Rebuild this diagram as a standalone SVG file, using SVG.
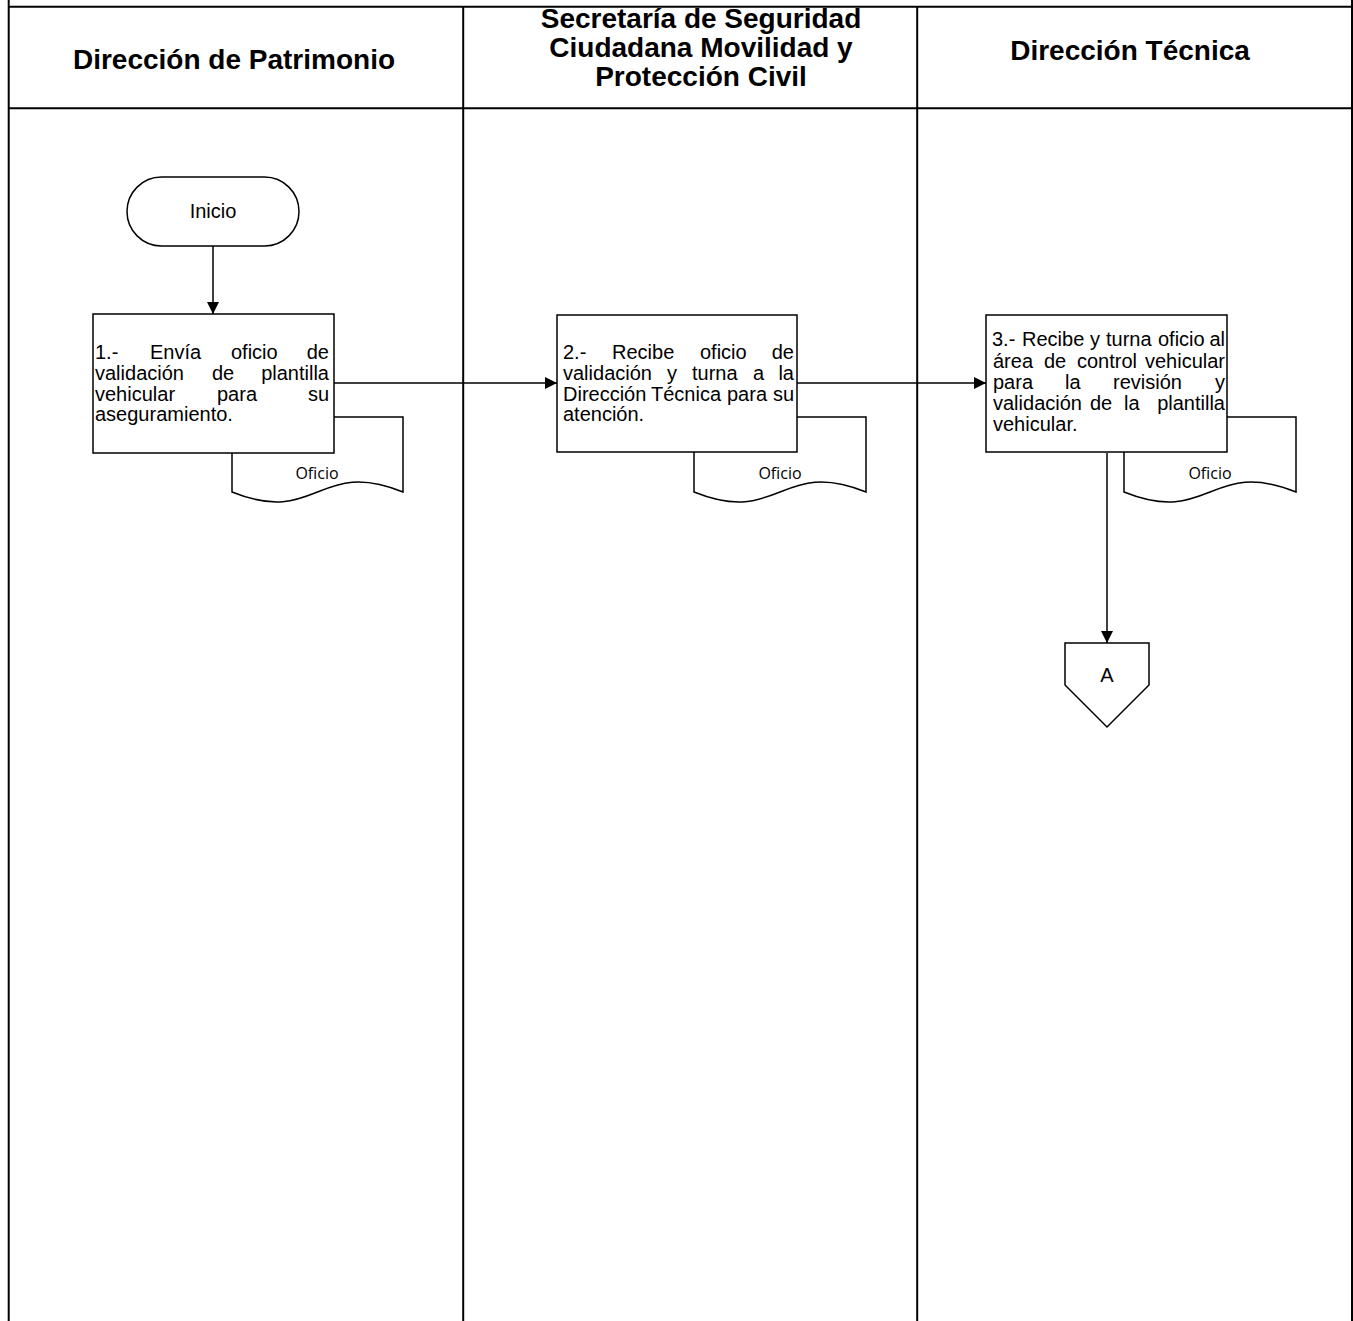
<svg xmlns="http://www.w3.org/2000/svg" width="1353" height="1321" viewBox="0 0 1353 1321">
<defs>
<style>
.ln{stroke:#000;stroke-width:2;fill:none}
.hd{font-family:"Liberation Sans",Arial,sans-serif;font-weight:bold;font-size:28px;fill:#000;text-anchor:middle}
.tx{font-family:"Liberation Sans",Arial,sans-serif;font-size:20px;fill:#000}
.doc{font-family:"Open Sans","Noto Sans",sans-serif;font-size:16px;fill:#000;text-anchor:middle}
.box{fill:#fff;stroke:#000;stroke-width:1.5}
.cn{stroke:#000;stroke-width:1.5;fill:none}
</style>
<marker id="ah" viewBox="0 0 12 12" refX="12" refY="6" markerWidth="12" markerHeight="12" markerUnits="userSpaceOnUse" orient="auto">
<path d="M0,0 L12,6 L0,12 Z" fill="#000"/>
</marker>
</defs>
<rect width="1353" height="1321" fill="#fff"/>
<g id="lanes">
<line class="ln" x1="8.7" y1="0" x2="8.7" y2="1321"/>
<line class="ln" x1="1352" y1="0" x2="1352" y2="1321"/>
<line class="ln" x1="8" y1="6.7" x2="1353" y2="6.7"/>
<line class="ln" x1="8" y1="108.3" x2="1353" y2="108.3"/>
<line class="ln" x1="463.2" y1="6" x2="463.2" y2="1321"/>
<line class="ln" x1="917.2" y1="6" x2="917.2" y2="1321"/>
<text class="hd" x="234" y="69">Dirección de Patrimonio</text>
<text class="hd" x="701" y="28">Secretaría de Seguridad</text>
<text class="hd" x="701" y="57">Ciudadana Movilidad y</text>
<text class="hd" x="701" y="86">Protección Civil</text>
<text class="hd" x="1130" y="60">Dirección Técnica</text>
</g>
<g id="connectors">
<line class="cn" x1="213" y1="246" x2="213" y2="314" marker-end="url(#ah)"/>
<line class="cn" x1="334" y1="383" x2="557" y2="383" marker-end="url(#ah)"/>
<line class="cn" x1="797" y1="383" x2="986" y2="383" marker-end="url(#ah)"/>
<line class="cn" x1="1107" y1="453" x2="1107" y2="643" marker-end="url(#ah)"/>
</g>
<g id="inicio">
<rect class="box" x="127" y="177" width="172" height="69" rx="34.5"/>
<text class="tx" x="213" y="218" text-anchor="middle">Inicio</text>
</g>
<g id="doc1">
<path class="box" d="M232,417 H403 V492 C317.5,457.4 317.5,526.6 232,492 Z"/>
<text class="doc" x="317" y="479">Oficio</text>
</g>
<g id="step1">
<rect class="box" x="93" y="314" width="241" height="139"/>
<text class="tx" y="359"><tspan x="95">1.-</tspan><tspan x="150">Envía</tspan><tspan x="231">oficio</tspan><tspan x="329" text-anchor="end">de</tspan></text>
<text class="tx" y="380"><tspan x="95">validación</tspan><tspan x="212">de</tspan><tspan x="329" text-anchor="end">plantilla</tspan></text>
<text class="tx" y="401"><tspan x="95">vehicular</tspan><tspan x="217">para</tspan><tspan x="329" text-anchor="end">su</tspan></text>
<text class="tx" y="421" x="95">aseguramiento.</text>
</g>
<g id="doc2">
<path class="box" d="M694,417 H866 V492 C780,457.4 780,526.6 694,492 Z"/>
<text class="doc" x="780" y="479">Oficio</text>
</g>
<g id="step2">
<rect class="box" x="557" y="315" width="240" height="137"/>
<text class="tx" y="359"><tspan x="563">2.-</tspan><tspan x="612">Recibe</tspan><tspan x="700">oficio</tspan><tspan x="794" text-anchor="end">de</tspan></text>
<text class="tx" y="380"><tspan x="563">validación</tspan><tspan x="667">y</tspan><tspan x="692">turna</tspan><tspan x="753">a</tspan><tspan x="794" text-anchor="end">la</tspan></text>
<text class="tx" y="401"><tspan x="563">Dirección</tspan><tspan x="651">Técnica</tspan><tspan x="727">para</tspan><tspan x="794" text-anchor="end">su</tspan></text>
<text class="tx" y="421" x="563">atención.</text>
</g>
<g id="doc3">
<path class="box" d="M1124,417 H1296 V492 C1210,457.4 1210,526.6 1124,492 Z"/>
<text class="doc" x="1210" y="479">Oficio</text>
</g>
<g id="step3">
<rect class="box" x="986" y="315" width="241" height="137"/>
<text class="tx" y="346"><tspan x="992">3.-</tspan><tspan x="1022">Recibe</tspan><tspan x="1090">y</tspan><tspan x="1106">turna</tspan><tspan x="1158">oficio</tspan><tspan x="1225" text-anchor="end">al</tspan></text>
<text class="tx" y="368"><tspan x="993">área</tspan><tspan x="1044">de</tspan><tspan x="1077">control</tspan><tspan x="1225" text-anchor="end">vehicular</tspan></text>
<text class="tx" y="389"><tspan x="993">para</tspan><tspan x="1065">la</tspan><tspan x="1113">revisión</tspan><tspan x="1225" text-anchor="end">y</tspan></text>
<text class="tx" y="410"><tspan x="993">validación</tspan><tspan x="1090">de</tspan><tspan x="1124">la</tspan><tspan x="1225" text-anchor="end">plantilla</tspan></text>
<text class="tx" y="431" x="993">vehicular.</text>
</g>
<g id="connectorA">
<path class="box" d="M1065,643 H1149 V685 L1107,727 L1065,685 Z"/>
<text class="tx" x="1107" y="682" text-anchor="middle">A</text>
</g>
</svg>
